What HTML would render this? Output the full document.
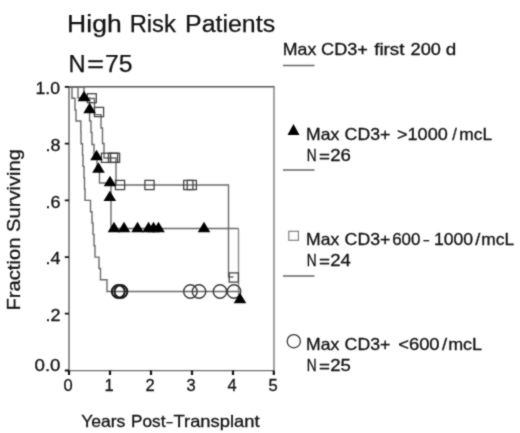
<!DOCTYPE html>
<html>
<head>
<meta charset="utf-8">
<style>
html,body{margin:0;padding:0;background:#fff;}
body{width:520px;height:433px;overflow:hidden;}
svg{display:block;}
text{font-family:"Liberation Sans",sans-serif;fill:#111;stroke:#111;stroke-width:0.3px;}
.ttl text{stroke-width:0.25px;}
</style>
</head>
<body>
<svg width="520" height="433" viewBox="0 0 520 433">
<defs><filter id="bl" color-interpolation-filters="sRGB" x="-5%" y="-5%" width="110%" height="110%"><feConvolveMatrix order="3" kernelMatrix="1 2 1 2 12 2 1 2 1" divisor="24" edgeMode="none"/></filter></defs>
<g filter="url(#bl)">
<!-- title -->
<g font-size="23" class="ttl">
<text x="67.12" y="32" textLength="54.52" lengthAdjust="spacingAndGlyphs">High</text>
<text x="129.65" y="32" textLength="46.21" lengthAdjust="spacingAndGlyphs">Risk</text>
<text x="185.0" y="32" textLength="90.1" lengthAdjust="spacingAndGlyphs">Patients</text>
<text x="68.45" y="71.5" textLength="17.11" lengthAdjust="spacingAndGlyphs">N</text>
<text x="86.96" y="71.5" textLength="17.11" lengthAdjust="spacingAndGlyphs">=</text>
<text x="104.9" y="71.5" textLength="27.5" lengthAdjust="spacingAndGlyphs">75</text>
</g>

<!-- axis labels -->
<text transform="translate(20.3,310.5) rotate(-90)" font-size="18" textLength="161.5" lengthAdjust="spacingAndGlyphs">Fraction Surviving</text>
<g font-size="16.5">
<text x="81.16" y="427" textLength="44.23" lengthAdjust="spacingAndGlyphs">Years</text>
<text x="131.12" y="427" textLength="34.38" lengthAdjust="spacingAndGlyphs">Post</text>
<text x="166.5" y="427" textLength="6.06" lengthAdjust="spacingAndGlyphs">–</text>
<text x="173.5" y="427" textLength="86.0" lengthAdjust="spacingAndGlyphs">Transplant</text>
</g>

<!-- y tick labels -->
<g font-size="17">
<text x="35.5" y="94" textLength="24.5" lengthAdjust="spacingAndGlyphs">1.0</text>
<text x="45.5" y="150.5" textLength="15" lengthAdjust="spacingAndGlyphs">.8</text>
<text x="45.5" y="207.5" textLength="15" lengthAdjust="spacingAndGlyphs">.6</text>
<text x="45.5" y="264" textLength="15" lengthAdjust="spacingAndGlyphs">.4</text>
<text x="45.5" y="321" textLength="15" lengthAdjust="spacingAndGlyphs">.2</text>
<text x="34.5" y="371" textLength="26" lengthAdjust="spacingAndGlyphs">0.0</text>
</g>
<!-- x tick labels -->
<g font-size="16.5" text-anchor="middle">
<text x="68" y="390.5">0</text>
<text x="109" y="390.5">1</text>
<text x="150" y="390.5">2</text>
<text x="191" y="390.5">3</text>
<text x="232" y="390.5">4</text>
<text x="273" y="390.5">5</text>
</g>

<!-- frame -->
<g stroke-width="1.4" fill="none">
<path d="M69,86.7 H274.5" stroke="#555"/>
<path d="M274,86.7 V370.6" stroke="#7a7a7a"/>
<path d="M69,370.6 H274" stroke="#707070"/>
<path d="M69,86 V370.6" stroke="#636363"/>
</g>
<!-- ticks -->
<g stroke="#111" stroke-width="1.8">
<path d="M64.8,86.9 H69 M64.8,143.6 H69 M64.8,200.4 H69 M64.8,257.1 H69 M64.8,313.7 H69 M64.8,370.5 H69"/>
</g>
<g stroke="#111" stroke-width="2.2">
<path d="M69,370.5 V375 M110,370.5 V375 M151,370.5 V375 M192,370.5 V375 M233,370.5 V375 M273.8,370.5 V375"/>
</g>

<!-- curves -->
<g stroke="#696969" stroke-width="1.4" fill="none">
<!-- circle curve -->
<path d="M69,87 H72 V98.3 H75 V110 H76 V121 H80.8 V132.4 H81 V143.7 H82.5 V155 H83 V166.4 H84 V177.7 H84.5 V189 H85 V200.4 H90.5 V211.7 H92 V223 H93 V234.4 H94 V245.8 H95 V257.1 H99 V268.5 H100.5 V279.8 H107 V291.5 H240"/>
<!-- triangle curve -->
<path d="M69,87 H78 V98 H89.6 V121 H91 V132.5 H92 V144.5 H94 V156 H97 V168 H99.5 V183 H111 V228.5 H238.5"/>
<path d="M238.5,228.5 V296" stroke="#8a8a8a"/>
<!-- square curve -->
<path d="M69,87 H84 V98.5 H94.5 V114.6 H101 V128 H102.5 V143.5 H104 V158 H116 V185 H228.5 V277 H233.5"/>
</g>

<!-- squares -->
<g stroke="#444" stroke-width="1.3" fill="none">
<rect x="87.3" y="93.7" width="9" height="9"/>
<rect x="94.4" y="107.4" width="9.2" height="9.2"/>
<rect x="101.4" y="153.2" width="9.2" height="9.2"/>
<rect x="108.4" y="153.2" width="9.2" height="9.2"/>
<rect x="110.4" y="153.2" width="9.2" height="9.2"/>
<rect x="115.4" y="180.4" width="9.2" height="9.2"/>
<rect x="144.9" y="180.4" width="9.2" height="9.2"/>
<rect x="183.7" y="180.4" width="9.2" height="9.2"/>
<rect x="187.2" y="180.4" width="9.2" height="9.2"/>
<rect x="229.2" y="272.9" width="9.2" height="9.2"/>
</g>

<!-- circles -->
<g stroke="#3a3a3a" stroke-width="1.4" fill="none">
<circle cx="190.4" cy="291.5" r="6.7"/>
<circle cx="199" cy="291.5" r="6.7"/>
<circle cx="220" cy="291.5" r="6.7"/>
<circle cx="234" cy="291.5" r="6.7"/>
</g>

<g stroke="#1a1a1a" stroke-width="2" fill="none">
<circle cx="118.3" cy="291.5" r="6.4"/>
<circle cx="120.9" cy="291.5" r="6.4"/>
</g>

<!-- triangles -->
<g fill="#000">
<path d="M84,90.8 l6.3,10.4 h-12.6 z"/>
<path d="M89.6,102.8 l6.3,10.4 h-12.6 z"/>
<path d="M96.5,149.8 l6.3,10.4 h-12.6 z"/>
<path d="M98.5,162.3 l6.3,10.4 h-12.6 z"/>
<path d="M110,175.8 l6.3,10.4 h-12.6 z"/>
<path d="M109.8,190.7 l6.3,10.4 h-12.6 z"/>
<path d="M114,221.8 l6.3,10.4 h-12.6 z"/>
<path d="M124,221.8 l6.3,10.4 h-12.6 z"/>
<path d="M137.5,221.8 l6.3,10.4 h-12.6 z"/>
<path d="M148.5,221.8 l6.3,10.4 h-12.6 z"/>
<path d="M153.5,221.8 l6.3,10.4 h-12.6 z"/>
<path d="M158.5,221.8 l6.3,10.4 h-12.6 z"/>
<path d="M204,221.8 l6.3,10.4 h-12.6 z"/>
<path d="M240,292.8 l6.3,10.4 h-12.6 z"/>
</g>

<!-- legend -->
<g font-size="16.5">
<text x="282.82" y="55" textLength="33.51" lengthAdjust="spacingAndGlyphs">Max</text>
<text x="321.06" y="55" textLength="46.88" lengthAdjust="spacingAndGlyphs">CD3+</text>
<text x="374.2" y="55" textLength="30.3" lengthAdjust="spacingAndGlyphs">first</text>
<text x="410.59" y="55" textLength="30.32" lengthAdjust="spacingAndGlyphs">200</text>
<text x="445.77" y="55" textLength="10.49" lengthAdjust="spacingAndGlyphs">d</text>
<text x="306.14" y="139.5" textLength="33.19" lengthAdjust="spacingAndGlyphs">Max</text>
<text x="344.58" y="139.5" textLength="45.83" lengthAdjust="spacingAndGlyphs">CD3+</text>
<text x="306.14" y="245" textLength="33.19" lengthAdjust="spacingAndGlyphs">Max</text>
<text x="344.58" y="245" textLength="45.83" lengthAdjust="spacingAndGlyphs">CD3+</text>
<text x="306.14" y="349.5" textLength="33.19" lengthAdjust="spacingAndGlyphs">Max</text>
<text x="344.58" y="349.5" textLength="45.83" lengthAdjust="spacingAndGlyphs">CD3+</text>
<text x="396.98" y="139.5" textLength="50.83" lengthAdjust="spacingAndGlyphs">&gt;1000</text>
<text x="452.17" y="139.5" textLength="4.57" lengthAdjust="spacingAndGlyphs">/</text>
<text x="459.32" y="139.5" textLength="32.74" lengthAdjust="spacingAndGlyphs">mcL</text>
<text x="392.15" y="245" textLength="28.19" lengthAdjust="spacingAndGlyphs">600</text>
<text x="423.5" y="245" textLength="5.56" lengthAdjust="spacingAndGlyphs">–</text>
<text x="433.93" y="245" textLength="39.26" lengthAdjust="spacingAndGlyphs">1000</text>
<text x="475.24" y="245" textLength="5.11" lengthAdjust="spacingAndGlyphs">/</text>
<text x="481.32" y="245" textLength="32.74" lengthAdjust="spacingAndGlyphs">mcL</text>
<text x="398.17" y="349.5" textLength="41.46" lengthAdjust="spacingAndGlyphs">&lt;600</text>
<text x="442.14" y="349.5" textLength="5.11" lengthAdjust="spacingAndGlyphs">/</text>
<text x="448.18" y="349.5" textLength="33.89" lengthAdjust="spacingAndGlyphs">mcL</text>
<text x="306.82" y="161" textLength="9.87" lengthAdjust="spacingAndGlyphs">N</text>
<text x="319.01" y="162" textLength="10.98" lengthAdjust="spacingAndGlyphs">=</text>
<text x="330.17" y="161" textLength="20.65" lengthAdjust="spacingAndGlyphs">26</text>
<text x="306.82" y="265.5" textLength="9.87" lengthAdjust="spacingAndGlyphs">N</text>
<text x="319.01" y="266.5" textLength="10.98" lengthAdjust="spacingAndGlyphs">=</text>
<text x="330.17" y="265.5" textLength="20.65" lengthAdjust="spacingAndGlyphs">24</text>
<text x="306.82" y="370.5" textLength="9.87" lengthAdjust="spacingAndGlyphs">N</text>
<text x="319.01" y="371.5" textLength="10.98" lengthAdjust="spacingAndGlyphs">=</text>
<text x="330.17" y="370.5" textLength="20.65" lengthAdjust="spacingAndGlyphs">25</text>
</g>
<g stroke="#666" stroke-width="1.4">
<path d="M283,65.5 H314.5 M283,170 H314.5 M283,276 H314.5"/>
</g>
<path d="M293.5,124 l6,11 h-12 z" fill="#000"/>
<rect x="288.8" y="231.3" width="9.6" height="9" stroke="#777" stroke-width="1.1" fill="none"/>
<circle cx="293.8" cy="341.2" r="6.6" stroke="#333" stroke-width="1.3" fill="none"/>
</g>
</svg>
</body>
</html>
